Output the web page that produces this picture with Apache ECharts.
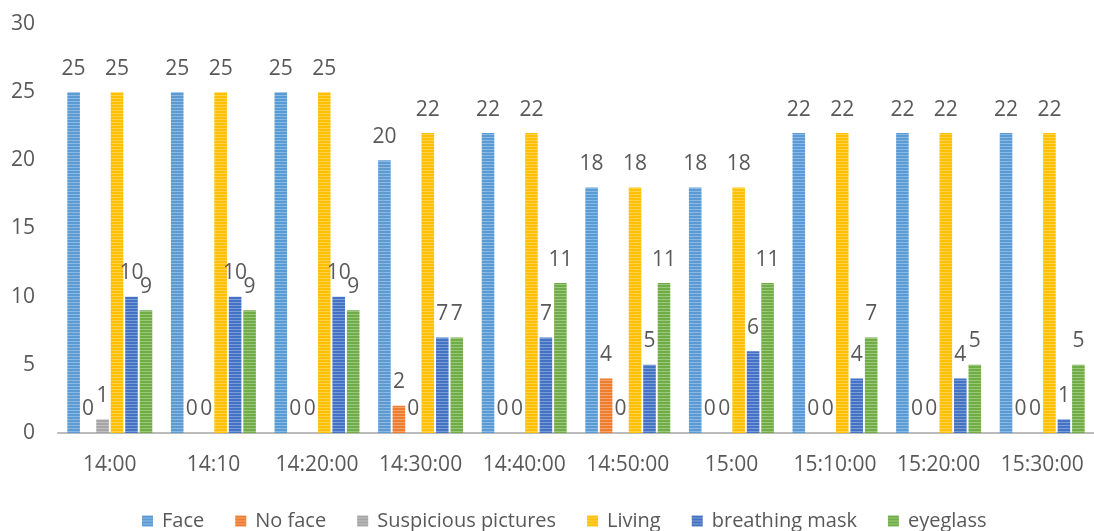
<!DOCTYPE html>
<html>
<head>
<meta charset="utf-8">
<script src="https://cdn.jsdelivr.net/npm/echarts@6/dist/echarts.min.js"></script>
<style>
  html, body { margin: 0; padding: 0; background: #fff; }
  #chart { width: 1094px; height: 531px; }
</style>
</head>
<body>
<div id="chart"></div>
<script>
// Time slots on the x axis
const categories = ['14:00', '14:10', '14:20:00', '14:30:00', '14:40:00', '14:50:00', '15:00', '15:10:00', '15:20:00', '15:30:00'];

// Counts per detection type
const face          = [25, 25, 25, 20, 22, 18, 18, 22, 22, 22];
const noFace        = [0, 0, 0, 2, 0, 4, 0, 0, 0, 0];
const suspicious    = [1, 0, 0, 0, 0, 0, 0, 0, 0, 0];
const living        = [25, 25, 25, 22, 22, 18, 18, 22, 22, 22];
const breathingMask = [10, 10, 10, 7, 7, 5, 6, 4, 4, 1];
const eyeglass      = [9, 9, 9, 7, 11, 11, 11, 7, 5, 5];

const seriesNames = ['Face', 'No face', 'Suspicious pictures', 'Living', 'breathing mask', 'eyeglass'];
const seriesData  = [face, noFace, suspicious, living, breathingMask, eyeglass];
const baseColors  = ['#5B9BD5', '#ED7D31', '#A5A5A5', '#FFC000', '#4472C4', '#70AD47'];

const FONT = '"Open Sans", "DejaVu Sans", sans-serif';
const TEXT = '#595959';

// Horizontal pinstripe fill: base colour with a lighter line every few pixels
function stripeFill(hex) {
  const c = document.createElement('canvas');
  c.width = 4; c.height = 3;
  const ctx = c.getContext('2d');
  ctx.fillStyle = hex;
  ctx.fillRect(0, 0, 4, 3);
  const r = parseInt(hex.slice(1, 3), 16), g = parseInt(hex.slice(3, 5), 16), b = parseInt(hex.slice(5, 7), 16);
  const mix = v => Math.round(v + (255 - v) * 0.3);
  ctx.fillStyle = `rgb(${mix(r)},${mix(g)},${mix(b)})`;
  ctx.fillRect(0, 2, 4, 1);
  return { image: c, repeat: 'repeat' };
}

const chart = echarts.init(document.getElementById('chart'), null, { renderer: 'canvas' });

const series = seriesNames.map((name, i) => ({
  name,
  type: 'bar',
  data: seriesData[i],
  barGap: '15%',
  barCategoryGap: '18%',
  itemStyle: { color: stripeFill(baseColors[i]) },
  label: {
    show: true,
    position: 'top',
    distance: 13,
    color: TEXT,
    fontFamily: FONT,
    fontSize: 21
  }
}));

chart.setOption({
  animation: false,
  backgroundColor: '#fff',
  color: baseColors,
  grid: { left: 58, right: 0, top: 24, bottom: 98, containLabel: false },
  legend: {
    data: seriesNames,
    top: 506,
    left: 137,
    icon: 'rect',
    itemWidth: 11,
    itemHeight: 11,
    itemGap: 31,
    textStyle: { color: TEXT, fontFamily: FONT, fontSize: 20, padding: [0, 0, 0, 4] }
  },
  xAxis: {
    type: 'category',
    data: categories,
    axisLine: { show: true, lineStyle: { color: '#BBBBBB', width: 2 } },
    axisTick: { show: false },
    axisLabel: { interval: 0, color: TEXT, fontFamily: FONT, fontSize: 21, margin: 22 },
    splitLine: { show: false }
  },
  yAxis: {
    type: 'value',
    min: 0,
    max: 30,
    interval: 5,
    axisLine: { show: false },
    axisTick: { show: false },
    axisLabel: { color: TEXT, fontFamily: FONT, fontSize: 21, margin: 23 },
    splitLine: { show: false }
  },
  series
});
</script>
</body>
</html>
